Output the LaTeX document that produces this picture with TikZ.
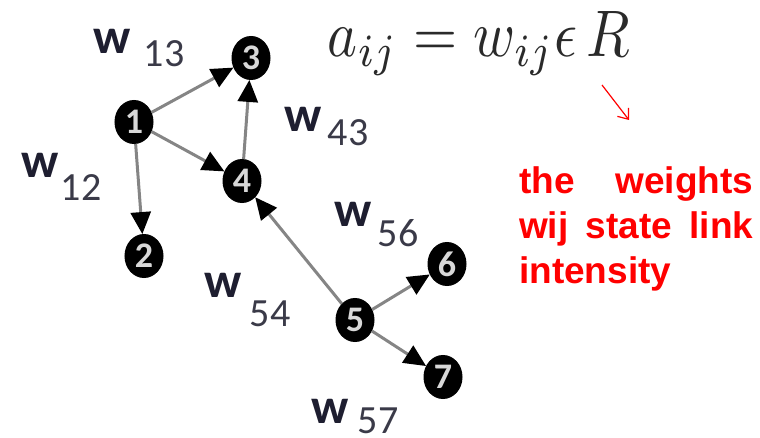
\documentclass[tikz,border=0pt]{standalone}
\usepackage{fontspec}
\usepackage{graphicx}
\setmainfont{Liberation Sans}
\newfontfamily\carl{Carlito}
\usetikzlibrary{arrows.meta,shapes.geometric}
\definecolor{edgegray}{HTML}{858585}
\definecolor{labw}{HTML}{1E1E30}
\definecolor{labn}{HTML}{3A3A48}
\definecolor{digit}{HTML}{D8D8D8}
\definecolor{formula}{HTML}{2A2A2A}
\hyphenpenalty=10000
\exhyphenpenalty=10000
\begin{document}
\begin{tikzpicture}[x=1pt,y=-1pt,
 vert/.style={ellipse,fill=black,draw=black,line width=1pt,minimum width=38pt,minimum height=43pt,inner sep=0pt,text=digit,font=\carl\bfseries\fontsize{36}{36}\selectfont},
 edge/.style={draw=edgegray,line width=3pt,-{Triangle[length=22pt,width=20pt,color=black,fill=black]}},
 wlab/.style={inner sep=0pt,text=labw,font=\carl\bfseries\fontsize{50}{50}\selectfont},
 nlab/.style={inner sep=0pt,text=labn,font=\carl\fontsize{40}{40}\selectfont}]
\useasboundingbox (0,0) rectangle (760,438);

% vertices
\node[vert] (n1) at (134,122) {1};
\node[vert] (n2) at (144,256) {2};
\node[vert] (n3) at (251,58) {3};
\node[vert] (n4) at (242,181) {4};
\node[vert] (n5) at (355,320) {5};
\node[vert] (n6) at (447,264) {6};
\node[vert] (n7) at (443,377) {7};

% edges
\draw[edge] (n1) -- (n3);
\draw[edge] (n1) -- (n4);
\draw[edge] (n1) -- (n2);
\draw[edge] (n4) -- (n3);
\draw[edge] (n5) -- (n4);
\draw[edge] (n5) -- (n6);
\draw[edge] (n5) -- (n7);

% weight labels
\node[wlab] (w13) at (112,41) {w};
\node[nlab] (s13) at (164,54) {13};
\node[wlab] (w12) at (40,165) {w};
\node[nlab] (s12) at (81,188) {12};
\node[wlab] (w43) at (303,119) {w};
\node[nlab] (s43) at (348,133) {43};
\node[wlab] (w56) at (353,214) {w};
\node[nlab] (s56) at (398,233) {56};
\node[wlab] (w54) at (223,285) {w};
\node[nlab] (s54) at (270,314) {54};
\node[wlab] (w57) at (330,411) {w};
\node[nlab] (s57) at (378,421) {57};

% formula
\node[inner sep=0pt,text=formula,anchor=base] (formula) at (479,57)
  {\resizebox{302pt}{45pt}{$a_{ij} = w_{ij}\epsilon\, R$}};

% red arrow
\coordinate (ra) at (602,85);
\coordinate (rb) at (629,120);
\draw[red,line width=1.2pt,-{Straight Barb[length=9pt,width=14pt]}] (ra) -- (rb);

% red note
\node[anchor=north west,text width=234pt,align=justify,inner sep=0pt,text=red,
  font=\bfseries\fontsize{37}{45}\selectfont] (note) at (519,166.5)
  {\tolerance=10000 the weights wij state link intensity};
\end{tikzpicture}
\end{document}
